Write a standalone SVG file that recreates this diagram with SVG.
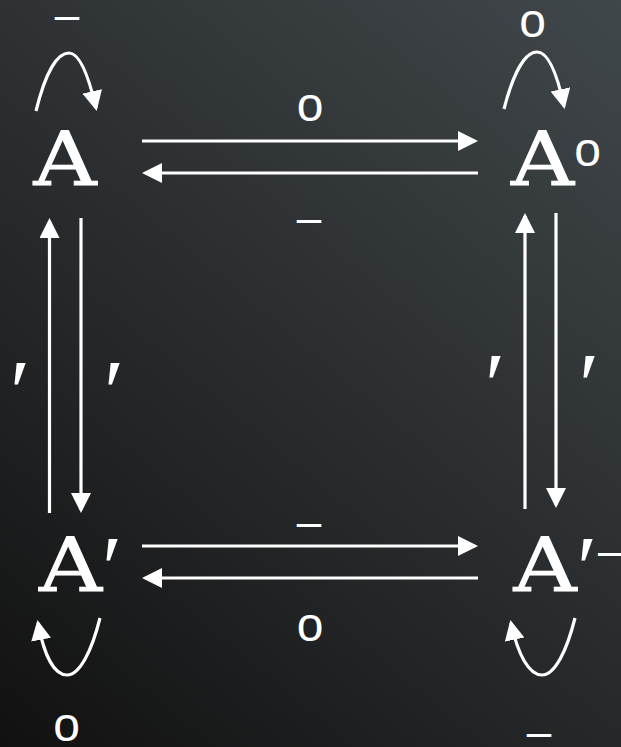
<svg xmlns="http://www.w3.org/2000/svg" width="621" height="747" viewBox="0 0 621 747">
<defs>
<linearGradient id="bg" x1="621" y1="0" x2="0" y2="747" gradientUnits="userSpaceOnUse">
<stop offset="0" stop-color="#40474a"/>
<stop offset="0.5" stop-color="#2a2d2f"/>
<stop offset="1" stop-color="#111111"/>
</linearGradient>
<marker id="ah" markerUnits="userSpaceOnUse" markerWidth="20" markerHeight="20" viewBox="0 0 20 20" refX="17" refY="10" orient="auto">
<path d="M0,0 L20,10 L0,20 z" fill="#fff"/>
</marker>
<style>
.obj{font-family:"DejaVu Serif",serif;font-size:74px;fill:#fff;stroke:#fff;stroke-width:0.8;text-anchor:middle}
.lbl{font-family:"Liberation Sans",Arial,sans-serif;font-size:48px;fill:#fff;text-anchor:middle}
.dash{font-family:"Liberation Sans",Arial,sans-serif;font-size:44px;fill:#fff;text-anchor:middle}
.pr{font-family:"Liberation Serif","Times New Roman",serif;font-size:92px;fill:#fff;text-anchor:middle}
.arr{fill:none;stroke:#fff;stroke-width:3.2;marker-end:url(#ah)}
</style>
</defs>
<rect width="621" height="747" fill="url(#bg)"/>
<g id="connectors">
<path class="arr" d="M142,141 H475"/>
<path class="arr" d="M478,173 H145"/>
<path class="arr" d="M142,546 H475"/>
<path class="arr" d="M478,578 H145"/>
<path class="arr" d="M49.5,513 V221"/>
<path class="arr" d="M81,218 V510"/>
<path class="arr" d="M525,509 V216"/>
<path class="arr" d="M556,213 V505"/>
<path class="arr" d="M36,111 C46,70 58,53 69,53 C81,53 90,82 96,108"/>
<path class="arr" d="M504,109 C514,70 526,52 537,52 C549,52 558,78 564,106"/>
<path class="arr" d="M100,618 C92,650 80,675 67,675 C54,675 44,655 38,623"/>
<path class="arr" d="M575,618 C567,650 555,675 542,675 C529,675 518,655 511,623"/>
<text class="lbl" x="310" y="121">o</text>
<text class="dash" x="309" y="233">–</text>
<text class="dash" x="309" y="536.5">–</text>
<text class="lbl" x="310" y="641">o</text>
<text class="pr" x="20" y="423">′</text>
<text class="pr" x="114" y="423">′</text>
<text class="pr" x="495" y="416">′</text>
<text class="pr" x="589" y="416">′</text>
<text class="dash" x="67" y="29.5">–</text>
<text class="lbl" x="532.5" y="36.5">o</text>
<text class="lbl" x="66.5" y="741">o</text>
<text class="dash" x="539" y="747">–</text>
</g>
<g id="node-A">
<text class="obj" transform="translate(65,185) scale(1.18,1)">A</text>
</g>
<g id="node-Ao">
<text class="obj" transform="translate(542.5,185) scale(1.18,1)">A</text>
<text class="lbl" x="587.5" y="166">o</text>
</g>
<g id="node-Aprime">
<text class="obj" transform="translate(70.5,591) scale(1.18,1)">A</text>
<text class="pr" x="112" y="599">′</text>
</g>
<g id="node-Aprimebar">
<text class="obj" transform="translate(545,591) scale(1.18,1)">A</text>
<text class="pr" x="587" y="599">′</text>
<text class="dash" x="598" y="565.5" style="text-anchor:start">–</text>
</g>
</svg>
